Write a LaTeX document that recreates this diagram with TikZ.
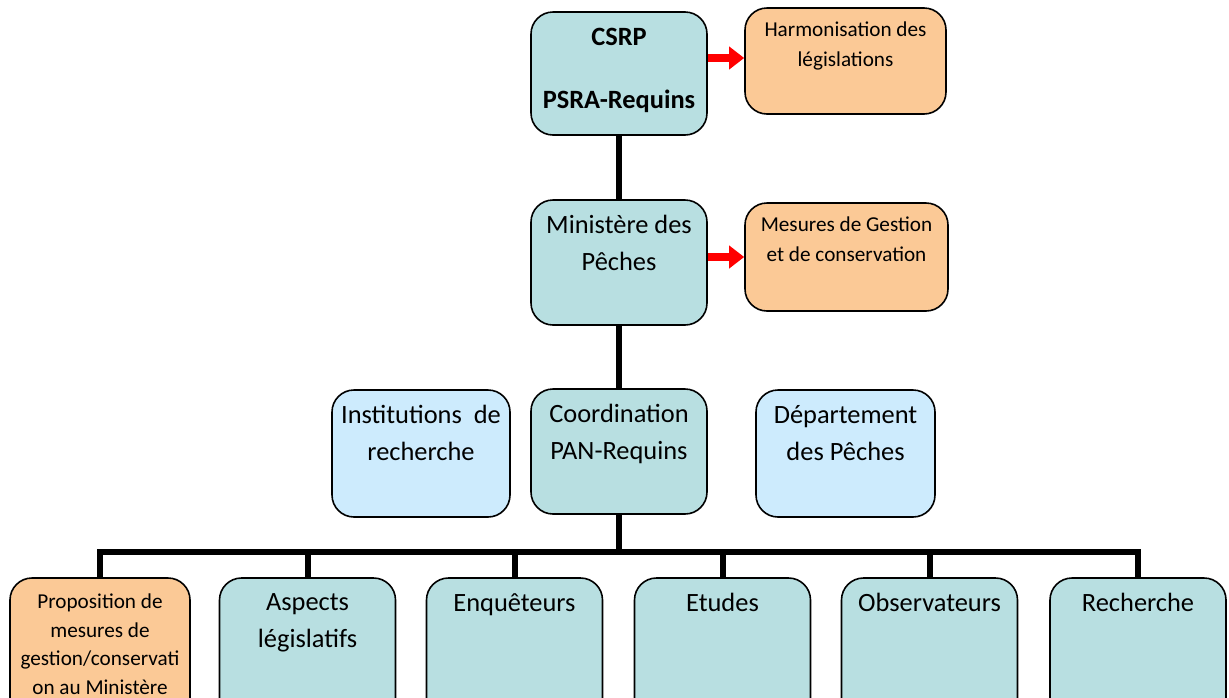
\documentclass[tikz,border=0pt]{standalone}
\usepackage{fontspec}
\setmainfont{Carlito}
\usepackage{xcolor}
\usetikzlibrary{positioning}
\usetikzlibrary{arrows.meta}
\definecolor{tealbox}{HTML}{B8DFE1}
\definecolor{orangebox}{HTML}{FBC996}
\definecolor{bluebox}{HTML}{CDEBFD}
\tikzset{link/.style = {line width=3pt}}
\tikzset{push/.style = {-{Triangle[length=7.5pt,width=11pt]}, red, line width=4pt}}

\begin{document}
\begin{tikzpicture}[x=0.5pt,y=-0.5pt,
    box/.style={draw,rounded corners=11pt,line width=0.8pt,minimum width=88pt},
    big/.style={font=\fontsize{13.2}{18.5}\selectfont},
    small/.style={font=\fontsize{10.6}{15}\selectfont},
    lbl/.style={anchor=north,inner sep=0pt,yshift=-8pt,align=center}]
    \useasboundingbox (0,0) rectangle (1229,697);

            \node[box,fill=tealbox,minimum height=61.5pt] (csrp) at (619,73.5)
                [label={[lbl,big,yshift=-0.5pt]north:{\bfseries CSRP\\[13pt]\bfseries PSRA-Requins}}] {};
            \node[box,fill=orangebox,minimum width=100.5pt,minimum height=53pt] (harm) at (845.5,61)
                [label={[lbl,small,yshift=1pt]north:{Harmonisation des\\législations}}] {};
            \node[box,fill=tealbox,minimum height=62.5pt] (min) at (619,262.5)
                [label={[lbl,big]north:{Ministère des\\Pêches}}] {};
            \node[box,fill=orangebox,minimum width=101.5pt,minimum height=54pt] (mes) at (846.5,257)
                [label={[lbl,small,yshift=1pt]north:{Mesures de Gestion\\et de conservation}}] {};

            \node[box,fill=tealbox,minimum height=62.5pt] (coord) at (619,451.5)
                [label={[lbl,big]north:{Coordination\\PAN-Requins}}] {};
            \node[box,fill=bluebox,minimum width=89pt,minimum height=63.5pt] (inst) at (421,453.5)
                [label={[lbl,big]north:{Institutions\ \ de\\recherche}}] {};
            \node[box,fill=bluebox,minimum width=89.5pt,minimum height=63.5pt] (dept) at (845.5,453.5)
                [label={[lbl,big]north:{Département\\des Pêches}}] {};

            \node[box,fill=orangebox,minimum width=90pt,minimum height=75pt] (prop) at (100,653)
                [label={[lbl,small,font=\fontsize{10.6}{14.4}\selectfont]north:{Proposition de\\mesures de\\gestion/conservati\\on au Ministère}}] {};
            \node[box,fill=tealbox,minimum height=75pt] (asp) at (307.5,653)
                [label={[lbl,big]north:{Aspects\\législatifs}}] {};
            \node[box,fill=tealbox,minimum height=75pt] (enq) at (514.5,653)
                [label={[lbl,big]north:{Enquêteurs}}] {};
            \node[box,fill=tealbox,minimum height=75pt] (etu) at (722.5,653)
                [label={[lbl,big]north:{Etudes}}] {};
            \node[box,fill=tealbox,minimum height=75pt] (obs) at (929.5,653)
                [label={[lbl,big]north:{Observateurs}}] {};
            \node[box,fill=tealbox,minimum height=75pt] (rech) at (1138,653)
                [label={[lbl,big]north:{Recherche}}] {};

            \coordinate (bus) at (619,552);

            \draw[link] (csrp) -- (min);
            \draw[link] (min) -- (coord);
            \draw[link] (coord) -- (bus);
            \draw[link] (prop.north) |- (bus) -| (rech.north);
            \foreach \n in {asp,enq,etu,obs}
                \draw[link] (bus -| \n.north) -- (\n.north);

            \draw[push] (csrp.east |- 0,58) -- (harm.west |- 0,58);
            \draw[push] (min.east |- mes.west) -- (mes.west);
        \end{tikzpicture}
\end{document}
